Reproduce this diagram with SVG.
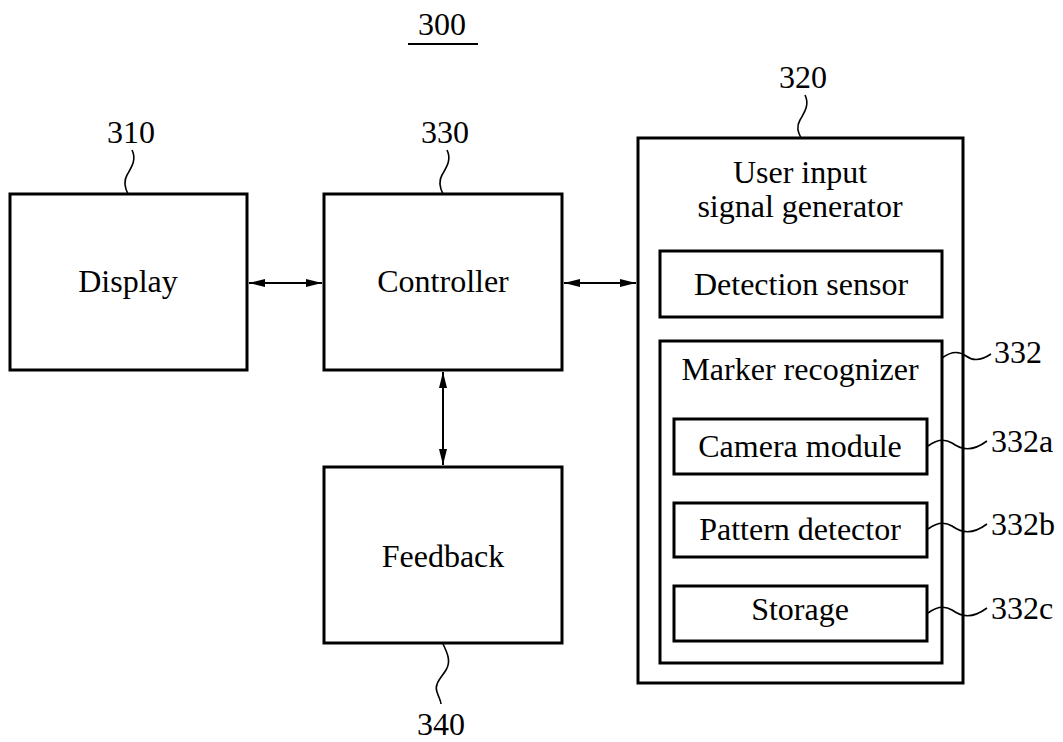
<svg xmlns="http://www.w3.org/2000/svg" width="1063" height="742" viewBox="0 0 1063 742">
<style>
.box{fill:#fff;stroke:#000;stroke-width:3}
.t{font-family:"Liberation Serif","Times New Roman",serif;font-size:32px;fill:#000;text-anchor:middle}
.n{font-family:"Liberation Serif","Times New Roman",serif;font-size:32px;fill:#000}
.ld{fill:none;stroke:#000;stroke-width:1.6}
.cn{stroke:#000;stroke-width:2;fill:none;marker-start:url(#ah);marker-end:url(#ah)}
</style>
<defs>
<marker id="ah" viewBox="0 0 16 8" refX="16" refY="4" markerWidth="16" markerHeight="8" markerUnits="userSpaceOnUse" orient="auto-start-reverse">
<path d="M0,0 L16,4 L0,8 Z" fill="#000"/>
</marker>
</defs>
<rect width="1063" height="742" fill="#fff"/>
<g id="title">
<text class="t" x="442" y="35">300</text>
<line x1="408" y1="44" x2="478" y2="44" stroke="#000" stroke-width="2"/>
</g>
<g id="display">
<rect class="box" x="10" y="194" width="237" height="176"/>
<text class="t" x="128" y="292">Display</text>
<text class="t" x="131" y="143">310</text>
<path class="ld" d="M132,150 C137,160 131,168 127,175 C123,182 125,188 128,194"/>
</g>
<g id="controller">
<rect class="box" x="324" y="194" width="238" height="176"/>
<text class="t" x="443" y="292">Controller</text>
<text class="t" x="445" y="143">330</text>
<path class="ld" d="M447,150 C452,160 446,168 442,175 C438,182 440,188 443,194"/>
</g>
<g id="feedback">
<rect class="box" x="324" y="467" width="238" height="176"/>
<text class="t" x="443" y="567">Feedback</text>
<text class="t" x="441" y="735">340</text>
<path class="ld" d="M443,644 C448,654 451,662 446,670 C441,678 434,684 437,692 C439,698 441,701 441,704"/>
</g>
<g id="user-input">
<rect class="box" x="638" y="138" width="325" height="545"/>
<text class="t" x="800" y="183">User input</text>
<text class="t" x="800" y="217">signal generator</text>
<text class="t" x="803" y="88">320</text>
<path class="ld" d="M805,95 C810,105 804,113 800,120 C796,127 798,132 801,138"/>
</g>
<g id="detection-sensor">
<rect class="box" x="660" y="251" width="282" height="66"/>
<text class="t" x="801" y="295">Detection sensor</text>
</g>
<g id="marker-recognizer">
<rect class="box" x="660" y="341" width="282" height="322"/>
<text class="t" x="800" y="380">Marker recognizer</text>
<text class="n" x="994" y="363">332</text>
<path class="ld" d="M942,358 C950,352 958,350 966,356 C974,362 982,360 991,354"/>
</g>
<g id="camera-module">
<rect class="box" x="674" y="419" width="253" height="55"/>
<text class="t" x="800" y="457">Camera module</text>
<text class="n" x="991" y="452">332a</text>
<path class="ld" d="M928,446 C936,440 944,438 952,443 C962,450 972,452 987,441"/>
</g>
<g id="pattern-detector">
<rect class="box" x="674" y="503" width="253" height="54"/>
<text class="t" x="800" y="540">Pattern detector</text>
<text class="n" x="991" y="535">332b</text>
<path class="ld" d="M928,529 C936,523 944,521 952,526 C962,533 972,535 987,524"/>
</g>
<g id="storage">
<rect class="box" x="674" y="586" width="253" height="55"/>
<text class="t" x="800" y="620">Storage</text>
<text class="n" x="991" y="619">332c</text>
<path class="ld" d="M928,613 C936,607 944,605 952,610 C962,617 972,619 987,608"/>
</g>
<g id="connectors">
<line class="cn" x1="249" y1="283" x2="322" y2="283"/>
<line class="cn" x1="564" y1="283" x2="636" y2="283"/>
<line class="cn" x1="443" y1="372" x2="443" y2="465"/>
</g>
</svg>
